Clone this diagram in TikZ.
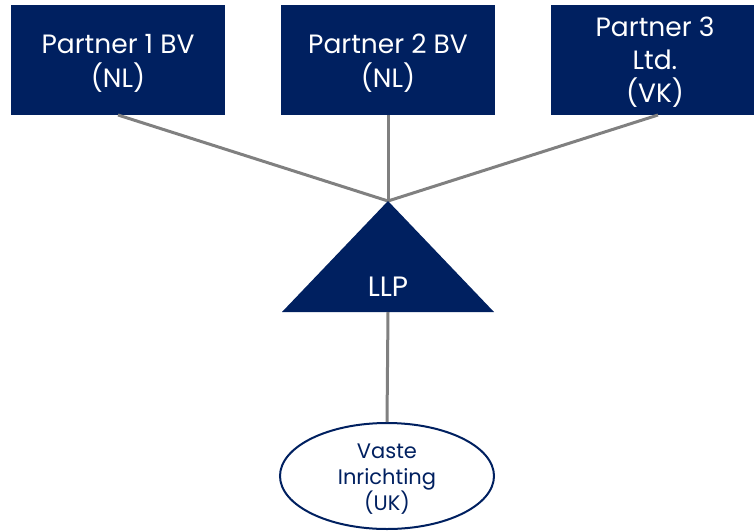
\documentclass[tikz,border=0pt]{standalone}
\usepackage{fontspec}
\setmainfont{Poppins}
\usetikzlibrary{shapes.geometric}
\definecolor{navy}{HTML}{002060}
\definecolor{linegray}{HTML}{808080}
\begin{document}
\begin{tikzpicture}[x=1pt,y=-1pt,
  partnerbox/.style={fill=navy, draw=none, minimum width=214pt, minimum height=110pt, inner sep=0pt},
  boxtext/.style={text=white, align=center, inner sep=0pt, font=\fontsize{26.5}{34}\selectfont},
  conn/.style={draw=linegray, line width=3pt},
  pebox/.style={ellipse, draw=navy, line width=2pt, fill=white, minimum width=214pt, minimum height=106pt,
    inner sep=0pt},
  petext/.style={text=navy, align=center, inner sep=0pt, font=\fontsize{21}{26}\selectfont}]
\useasboundingbox (0,0) rectangle (756,531);
\node[partnerbox] (p1) at (118,60) {};
\node[partnerbox] (p2) at (388,60) {};
\node[partnerbox, minimum width=203pt] (p3) at (652.5,60) {};
\node[boxtext] (p1t) at (118,63) {Partner 1 BV\\(NL)};
\node[boxtext] (p2t) at (388,63) {Partner 2 BV\\(NL)};
\node[boxtext, font=\fontsize{26.5}{33}\selectfont] (p3t) at (655,62) {Partner 3\\Ltd.\\(VK)};
\coordinate (apex) at (388,201);
\coordinate (bl) at (282,312);
\coordinate (br) at (494,312);
\coordinate (p3b) at (658,115);
\coordinate (p1b) at (118,115);
\draw[conn] (p1b) -- (apex);
\draw[conn] (p2.south) -- (apex);
\draw[conn] (p3b) -- (apex);
\fill[navy] (apex) -- (br) -- (bl) -- cycle;
\node[text=white, font=\fontsize{28}{30}\selectfont, anchor=base] (llp) at (388,296) {LLP};
\node[pebox] (pe) at (387,476) {};
\node[petext] (pet) at (387,479) {Vaste\\Inrichting\\(UK)};
\draw[conn] (388,312) -- (pe.north);
\end{tikzpicture}
\end{document}
